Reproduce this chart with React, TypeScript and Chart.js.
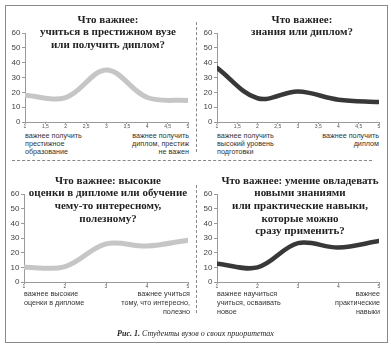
import React, { useEffect, useRef } from "react";
import { Chart, registerables } from "chart.js";

Chart.register(...registerables);

// ---- data ----
const xPoints = [1, 2, 3, 4, 5];
const prestigeValues = [18, 16.5, 35, 16.5, 14.5];
const knowledgeValues = [36.5, 16, 20.5, 15, 13.5];
const gradesValues = [10, 10.5, 26, 24.5, 28.5];
const skillsValues = [12.5, 10, 26.5, 23.5, 28];
const yTicks = [0, 10, 20, 30, 40, 50, 60];

const title1 = ["Что важнее:", "учиться в престижном вузе", "или получить диплом?"];
const title2 = ["Что важнее:", "знания или диплом?"];
const title3 = ["Что важнее: высокие", "оценки в дипломе или обучение", "чему-то интересному,", "полезному?"];
const title4 = ["Что важнее: умение овладевать", "новыми знаниями", "или практические навыки,", "которые можно", "сразу применить?"];

const left1 = ["важнее получить", "престижное", "образование"];
const right1 = ["важнее получить", "диплом, престиж", "не важен"];
const left2 = ["важнее получить", "высокий уровень", "подготовки"];
const right2 = ["важнее получить", "диплом"];
const left3 = ["важнее высокие", "оценки в дипломе"];
const right3 = ["важнее учиться", "тому, что интересно,", "полезно"];
const left4 = ["важнее научиться", "учиться, осваивать", "новое"];
const right4 = ["важнее", "практические", "навыки"];

const captionBold = "Рис. 1.";
const captionText = " Студенты вузов о своих приоритетах";

type PanelProps = {
  values: number[];
  color: string;
  lineWidth: number;
  step: number;
  left: number;
  top: number;
  width: number;
  height: number;
  yWidth: number;
  xHeight: number;
  padTop: number;
  padRight: number;
};

function LineChart(p: PanelProps) {
  const ref = useRef<HTMLCanvasElement | null>(null);
  useEffect(() => {
    if (!ref.current) return;
    const chart = new Chart(ref.current, {
      type: "line",
      data: {
        datasets: [
          {
            data: xPoints.map((x, i) => ({ x, y: p.values[i] })),
            borderColor: p.color,
            borderWidth: p.lineWidth,
            pointRadius: 0,
            tension: 0.36,
            fill: false,
            borderCapStyle: "round",
          },
        ],
      },
      options: {
        responsive: false,
        animation: false,
        events: [],
        layout: { padding: { top: p.padTop, right: p.padRight, left: 0, bottom: 0 } },
        plugins: { legend: { display: false }, tooltip: { enabled: false }, title: { display: false } },
        scales: {
          x: {
            type: "linear",
            min: 1,
            max: 5,
            afterFit: (s: any) => {
              s.height = p.xHeight;
            },
            border: { display: true, color: "#9a9a9a", width: 1 },
            grid: { display: true, drawOnChartArea: false, drawTicks: true, tickLength: 2, color: "#9a9a9a" },
            ticks: {
              stepSize: p.step,
              padding: 0,
              maxRotation: 0,
              autoSkip: false,
              color: "#555",
              font: { family: "Liberation Sans", size: 5 },
              callback: (v: any) => String(v).replace(".", ","),
            },
          },
          y: {
            min: 0,
            max: 60,
            afterFit: (s: any) => {
              s.width = p.yWidth;
            },
            afterBuildTicks: (s: any) => {
              s.ticks = yTicks.map((v) => ({ value: v }));
            },
            border: { display: true, color: "#9a9a9a", width: 1 },
            grid: { display: true, drawOnChartArea: false, drawTicks: true, tickLength: 3, color: "#9a9a9a" },
            ticks: {
              padding: 1.5,
              color: "#444",
              font: { family: "Liberation Sans", size: 8 },
            },
          },
        },
      },
    });
    return () => chart.destroy();
  }, []);
  return (
    <canvas
      ref={ref}
      width={p.width}
      height={p.height}
      style={{ position: "absolute", left: p.left, top: p.top, width: p.width, height: p.height, display: "block" }}
    />
  );
}

function Title({ lines, cx, top }: { lines: string[]; cx: number; top: number }) {
  return (
    <div
      style={{
        position: "absolute",
        left: cx - 100,
        top,
        width: 200,
        textAlign: "center",
        fontFamily: "Liberation Serif",
        fontWeight: "bold",
        fontSize: 11,
        lineHeight: "12.7px",
        color: "#222",
        whiteSpace: "nowrap",
      }}
    >
      {lines.map((l, i) => (
        <div key={i}>{l}</div>
      ))}
    </div>
  );
}

function Note({ lines, x, top, align, lh }: { lines: string[]; x: number; top: number; align: "left" | "right"; lh: number }) {
  const style: React.CSSProperties = {
    position: "absolute",
    top,
    fontFamily: "Liberation Sans",
    fontSize: 7.2,
    lineHeight: lh + "px",
    color: "#333",
    whiteSpace: "nowrap",
    textAlign: align,
  };
  if (align === "left") style.left = x;
  else style.right = 391 - x;
  return (
    <div style={style}>
      {lines.map((l, i) => (
        <div key={i}>{l}</div>
      ))}
    </div>
  );
}

export default function App() {
  return (
    <div style={{ position: "fixed", left: 0, top: 0, width: 391, height: 349, background: "#fff", overflow: "hidden" }}>
      <div style={{ position: "absolute", left: 5, top: 5, width: 381, height: 336, border: "1px solid #8a8a8a" }} />
      <div style={{ position: "absolute", left: 196, top: 22, height: 130, borderLeft: "1px dashed #888" }} />
      <div style={{ position: "absolute", left: 196, top: 185, height: 128, borderLeft: "1px dashed #888" }} />
      <div style={{ position: "absolute", left: 12, top: 160, width: 360, borderTop: "1px dashed #888" }} />

      <LineChart values={prestigeValues} color="#c6c6c6" lineWidth={5} step={0.5}
        left={5} top={25} width={190} height={105} yWidth={20} xHeight={8} padTop={8} padRight={7} />
      <LineChart values={knowledgeValues} color="#383838" lineWidth={4.5} step={0.5}
        left={197} top={25} width={190} height={105} yWidth={20} xHeight={8} padTop={8} padRight={8} />
      <LineChart values={gradesValues} color="#c6c6c6" lineWidth={5} step={1}
        left={5} top={185} width={190} height={105} yWidth={19} xHeight={8} padTop={9} padRight={7} />
      <LineChart values={skillsValues} color="#383838" lineWidth={4.5} step={1}
        left={197} top={185} width={190} height={105} yWidth={20} xHeight={8} padTop={9} padRight={8} />

      <Title lines={title1} cx={108} top={12.5} />
      <Title lines={title2} cx={302} top={12.5} />
      <Title lines={title3} cx={108} top={173.5} />
      <Title lines={title4} cx={300} top={173.5} />

      <Note lines={left1} x={25} top={131.7} align="left" lh={8} />
      <Note lines={right1} x={189} top={131.7} align="right" lh={8} />
      <Note lines={left2} x={217} top={131.7} align="left" lh={8} />
      <Note lines={right2} x={379} top={131.7} align="right" lh={8} />
      <Note lines={left3} x={24} top={288.5} align="left" lh={9.3} />
      <Note lines={right3} x={190} top={288.5} align="right" lh={9.3} />
      <Note lines={left4} x={217} top={288.5} align="left" lh={9.3} />
      <Note lines={right4} x={380} top={288.5} align="right" lh={9.3} />

      <div
        style={{
          position: "absolute",
          left: 0,
          width: 391,
          top: 329,
          textAlign: "center",
          fontFamily: "Liberation Serif",
          fontStyle: "italic",
          fontSize: 8,
          lineHeight: "10px",
          color: "#222",
          whiteSpace: "nowrap",
        }}
      >
        <b>{captionBold}</b>
        {captionText}
      </div>
    </div>
  );
}
